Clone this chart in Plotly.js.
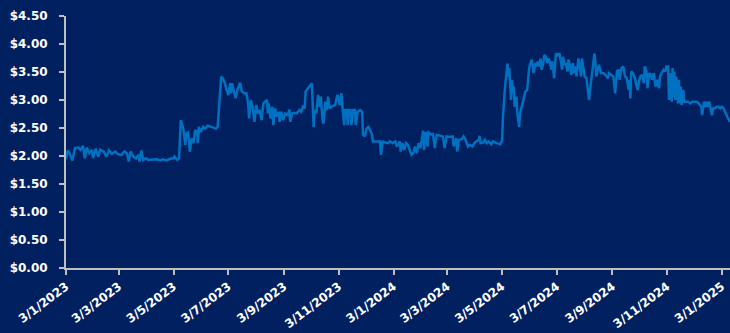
<!DOCTYPE html>
<html>
<head>
<meta charset="utf-8">
<script src="https://cdn.plot.ly/plotly-3.0.1.min.js"></script>
<style>html,body{margin:0;padding:0;background:#002060;}#chart{width:730px;height:333px;}</style>
</head>
<body>
<div id="chart"></div>
<script>
const dates = [
'2023-01-03','2023-01-05','2023-01-07','2023-01-10','2023-01-13','2023-01-17','2023-01-19','2023-01-22','2023-01-24','2023-01-26',
'2023-01-29','2023-02-01','2023-02-02','2023-02-05','2023-02-08','2023-02-10','2023-02-14','2023-02-17','2023-02-20','2023-02-23',
'2023-02-27','2023-03-02','2023-03-06','2023-03-09','2023-03-12','2023-03-14','2023-03-16','2023-03-19','2023-03-22','2023-03-25',
'2023-03-26','2023-03-28','2023-03-30','2023-04-02','2023-04-05','2023-04-10','2023-04-14','2023-04-18','2023-04-21','2023-04-25',
'2023-04-29','2023-05-03','2023-05-04','2023-05-07','2023-05-09','2023-05-11','2023-05-14','2023-05-16','2023-05-17','2023-05-19',
'2023-05-21','2023-05-23','2023-05-25','2023-05-27','2023-05-29','2023-05-30','2023-05-31','2023-06-02','2023-06-05','2023-06-07',
'2023-06-10','2023-06-14','2023-06-19','2023-06-21','2023-06-25','2023-06-27','2023-06-29','2023-07-01','2023-07-03','2023-07-05',
'2023-07-06','2023-07-07','2023-07-09','2023-07-11','2023-07-13','2023-07-16','2023-07-18','2023-07-21','2023-07-23','2023-07-25',
'2023-07-26','2023-07-28','2023-07-30','2023-08-01','2023-08-03','2023-08-05','2023-08-07','2023-08-09','2023-08-11','2023-08-13',
'2023-08-15','2023-08-16','2023-08-17','2023-08-19','2023-08-21','2023-08-22','2023-08-24','2023-08-26','2023-08-28','2023-08-29',
'2023-08-31','2023-09-02','2023-09-04','2023-09-07','2023-09-09','2023-09-10','2023-09-12','2023-09-14','2023-09-17','2023-09-20',
'2023-09-22','2023-09-24','2023-09-26','2023-09-27','2023-09-30','2023-10-03','2023-10-04','2023-10-06','2023-10-07','2023-10-09',
'2023-10-11','2023-10-12','2023-10-14','2023-10-16','2023-10-17','2023-10-19','2023-10-21','2023-10-22','2023-10-24','2023-10-27',
'2023-10-30','2023-11-01','2023-11-02','2023-11-04','2023-11-05','2023-11-06','2023-11-07','2023-11-08','2023-11-09','2023-11-10',
'2023-11-12','2023-11-13','2023-11-14','2023-11-16','2023-11-17','2023-11-19','2023-11-21','2023-11-22','2023-11-24','2023-11-27',
'2023-11-29','2023-11-30','2023-12-02','2023-12-04','2023-12-06','2023-12-08','2023-12-10','2023-12-11','2023-12-15','2023-12-19',
'2023-12-20','2023-12-22','2023-12-25','2023-12-28','2023-12-30','2024-01-02','2024-01-05','2024-01-07','2024-01-08','2024-01-10',
'2024-01-11','2024-01-13','2024-01-15','2024-01-17','2024-01-19','2024-01-21','2024-01-23','2024-01-25','2024-01-27','2024-01-29',
'2024-01-31','2024-02-02','2024-02-03','2024-02-05','2024-02-06','2024-02-08','2024-02-10','2024-02-11','2024-02-13','2024-02-15',
'2024-02-16','2024-02-18','2024-02-20','2024-02-24','2024-02-27','2024-02-29','2024-03-02','2024-03-06','2024-03-09','2024-03-10',
'2024-03-13','2024-03-14','2024-03-16','2024-03-19','2024-03-21','2024-03-23','2024-03-25','2024-03-26','2024-03-28','2024-03-31',
'2024-04-02','2024-04-05','2024-04-07','2024-04-08','2024-04-09','2024-04-12','2024-04-14','2024-04-16','2024-04-18','2024-04-21',
'2024-04-23','2024-04-27','2024-05-01','2024-05-03','2024-05-04','2024-05-06','2024-05-09','2024-05-10','2024-05-11','2024-05-13',
'2024-05-14','2024-05-15','2024-05-16','2024-05-17','2024-05-19','2024-05-20','2024-05-22','2024-05-23','2024-05-25','2024-05-27',
'2024-05-29','2024-05-31','2024-06-01','2024-06-02','2024-06-03','2024-06-05','2024-06-07','2024-06-09','2024-06-10','2024-06-12',
'2024-06-13','2024-06-15','2024-06-16','2024-06-18','2024-06-19','2024-06-21','2024-06-22','2024-06-24','2024-06-25','2024-06-27',
'2024-06-28','2024-06-30','2024-07-02','2024-07-04','2024-07-06','2024-07-07','2024-07-09','2024-07-10','2024-07-12','2024-07-13',
'2024-07-15','2024-07-16','2024-07-18','2024-07-19','2024-07-21','2024-07-22','2024-07-24','2024-07-25','2024-07-27','2024-07-28',
'2024-07-30','2024-07-31','2024-08-02','2024-08-03','2024-08-05','2024-08-06','2024-08-08','2024-08-09','2024-08-11','2024-08-12',
'2024-08-14','2024-08-15','2024-08-16','2024-08-18','2024-08-19','2024-08-21','2024-08-24','2024-08-26','2024-08-29','2024-08-30',
'2024-09-01','2024-09-04','2024-09-06','2024-09-08','2024-09-10','2024-09-11','2024-09-13','2024-09-15','2024-09-17','2024-09-19',
'2024-09-21','2024-09-22','2024-09-23','2024-09-24','2024-09-26','2024-09-28','2024-09-30','2024-10-01','2024-10-03','2024-10-04',
'2024-10-06','2024-10-08','2024-10-09','2024-10-11','2024-10-12','2024-10-14','2024-10-16','2024-10-17','2024-10-19','2024-10-21',
'2024-10-23','2024-10-25','2024-10-26','2024-10-28','2024-10-30','2024-11-01','2024-11-02','2024-11-04','2024-11-05','2024-11-07',
'2024-11-08','2024-11-09','2024-11-10','2024-11-11','2024-11-12','2024-11-13','2024-11-15','2024-11-16','2024-11-17','2024-11-18',
'2024-11-19','2024-11-21','2024-11-22','2024-11-25','2024-11-26','2024-11-29','2024-12-01','2024-12-03','2024-12-06','2024-12-08',
'2024-12-11','2024-12-12','2024-12-14','2024-12-15','2024-12-17','2024-12-18','2024-12-20','2024-12-21','2024-12-23','2024-12-24',
'2024-12-26','2024-12-28','2024-12-30','2025-01-01','2025-01-03','2025-01-05','2025-01-07','2025-01-09','2025-01-12'
];
const prices = [
1.95,2.10,2.05,1.92,2.14,2.15,2.11,2.18,1.96,2.15,
2.05,2.11,1.96,2.13,1.99,2.11,2.08,1.99,2.10,2.04,
2.08,2.03,2.02,2.08,2.05,1.90,2.08,1.99,1.96,2.02,
1.90,2.10,1.93,1.96,1.93,1.93,1.94,1.92,1.94,1.92,
1.95,1.96,1.99,1.93,1.96,2.64,2.46,2.20,2.40,2.42,
2.08,2.32,2.23,2.46,2.43,2.23,2.52,2.43,2.52,2.49,
2.54,2.52,2.49,2.52,3.42,3.38,3.30,3.18,3.09,3.30,
3.12,3.30,3.18,3.03,3.18,3.31,3.15,3.12,3.12,2.94,
2.67,3.00,2.88,2.61,2.91,2.76,2.82,2.64,2.94,2.97,
3.00,2.76,2.94,2.67,2.88,2.55,2.85,2.70,2.79,2.61,
2.79,2.64,2.76,2.73,2.83,2.61,2.76,2.77,2.76,2.82,
2.79,2.88,2.85,3.15,3.21,3.27,3.30,2.52,2.82,2.76,
3.09,2.88,3.06,2.61,2.58,2.97,2.82,3.06,2.85,2.89,
2.91,3.06,3.09,2.91,3.09,3.12,2.88,2.73,2.55,2.82,
2.82,2.55,2.82,2.82,2.55,2.82,2.82,2.55,2.79,2.82,
2.79,2.38,2.35,2.49,2.52,2.46,2.38,2.26,2.26,2.26,
2.02,2.26,2.24,2.23,2.26,2.23,2.26,2.17,2.20,2.26,
2.08,2.23,2.11,2.23,2.20,2.10,2.02,2.05,2.17,2.05,
2.23,2.14,2.26,2.45,2.11,2.43,2.17,2.42,2.40,2.38,
2.39,2.14,2.38,2.37,2.35,2.14,2.35,2.34,2.35,2.17,
2.32,2.08,2.29,2.30,2.35,2.30,2.20,2.17,2.20,2.17,
2.23,2.26,2.29,2.36,2.23,2.24,2.29,2.23,2.26,2.21,
2.26,2.23,2.21,2.29,2.70,3.18,3.65,3.42,3.57,3.00,
3.36,3.12,3.24,2.88,3.06,2.76,2.52,2.76,2.88,3.00,
3.15,3.18,3.42,3.54,3.63,3.72,3.48,3.66,3.60,3.69,
3.60,3.74,3.54,3.66,3.80,3.77,3.66,3.74,3.69,3.54,
3.69,3.39,3.83,3.80,3.83,3.72,3.54,3.77,3.63,3.66,
3.51,3.72,3.60,3.45,3.66,3.48,3.60,3.42,3.74,3.66,
3.42,3.74,3.48,3.42,3.39,3.24,3.00,3.18,3.42,3.54,
3.83,3.66,3.42,3.57,3.63,3.48,3.48,3.45,3.39,3.48,
3.45,3.42,3.12,3.51,3.54,3.36,3.57,3.60,3.42,3.39,
3.18,3.36,3.03,3.51,3.48,3.39,3.24,3.18,3.36,3.42,
3.45,3.30,3.60,3.51,3.21,3.48,3.45,3.36,3.48,3.24,
3.36,3.21,3.42,3.48,3.54,3.51,3.60,3.60,3.00,3.48,
2.97,3.57,3.06,3.51,3.00,3.42,2.94,3.36,2.94,3.24,
2.91,3.18,2.97,2.97,2.97,2.94,2.97,2.97,2.97,2.94,
2.88,2.73,2.97,2.88,2.97,2.88,2.97,2.88,2.73,2.85,
2.85,2.88,2.88,2.85,2.88,2.85,2.76,2.70,2.61
];
const tickDates = ['2023-01-03','2023-03-03','2023-05-03','2023-07-03','2023-09-03','2023-11-03',
  '2024-01-03','2024-03-03','2024-05-03','2024-07-03','2024-09-03','2024-11-03','2025-01-03'];
const tickLabels = ['3/1/2023','3/3/2023','3/5/2023','3/7/2023','3/9/2023','3/11/2023',
  '3/1/2024','3/3/2024','3/5/2024','3/7/2024','3/9/2024','3/11/2024','3/1/2025'];

const tickFont = {family: 'DejaVu Sans, Verdana, sans-serif', size: 12, color: '#FFFFFF', weight: 700};
const data = [{
  x: dates, y: prices, type: 'scatter', mode: 'lines',
  line: {color: '#0070C0', width: 2.5}, hoverinfo: 'x+y'
}];
const layout = {
  width: 730, height: 333,
  margin: {l: 66, r: 0, t: 16, b: 65, pad: 0},
  paper_bgcolor: '#002060', plot_bgcolor: '#002060',
  showlegend: false,
  xaxis: {
    type: 'date', range: ['2023-01-03', '2025-01-12'],
    tickmode: 'array', tickvals: tickDates, ticktext: tickLabels,
    tickangle: -37, tickfont: tickFont,
    showline: true, linecolor: '#BFBFBF', linewidth: 2,
    ticks: 'outside', ticklen: 5, tickwidth: 2, tickcolor: '#BFBFBF',
    showgrid: false, zeroline: false, fixedrange: true
  },
  yaxis: {
    range: [0, 4.5], dtick: 0.5, tick0: 0, tickformat: '$.2f',
    tickfont: tickFont, ticklabelstandoff: 9,
    showline: true, linecolor: '#BFBFBF', linewidth: 2,
    ticks: 'outside', ticklen: 5, tickwidth: 2, tickcolor: '#BFBFBF',
    showgrid: false, zeroline: false, fixedrange: true
  }
};
Plotly.newPlot('chart', data, layout, {displayModeBar: false, staticPlot: true});
</script>
</body>
</html>
